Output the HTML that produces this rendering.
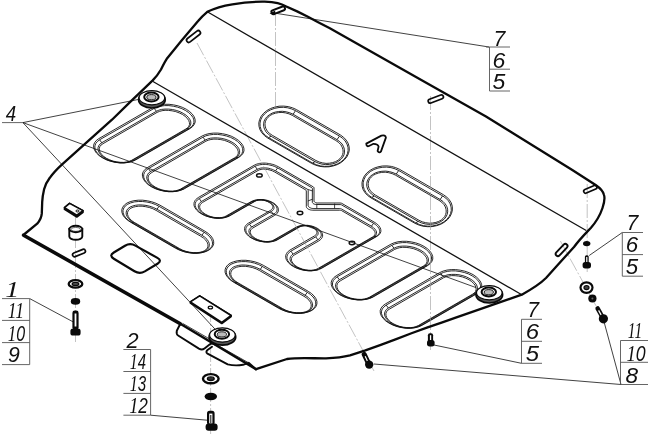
<!DOCTYPE html>
<html><head><meta charset="utf-8"><title>drawing</title>
<style>
html,body{margin:0;padding:0;background:#fff;}
body{width:650px;height:436px;overflow:hidden;}
svg{display:block;will-change:transform;}
text{font-family:"Liberation Sans","DejaVu Sans",sans-serif;font-style:italic;fill:#111;}
.s{font-family:"Liberation Serif",serif;font-size:23px;}
</style></head><body>
<svg width="650" height="436" viewBox="0 0 650 436">
<rect width="650" height="436" fill="#fff"/>
<g fill="none" stroke="#111" stroke-width="0.9">
<path d="M153.3 107.2L156.5 105.8L160.3 104.8L164.6 104.3L169.1 104.3L173.7 104.9L178.2 105.9L182.5 107.4L186.4 109.3L189.7 111.6L192.3 114.1L194.1 116.7L195.1 119.4L195.2 122L194.3 124.4L192.6 126.6L190.1 128.5L135.5 160L132.3 161.4L128.5 162.4L124.2 162.9L119.7 162.9L115.1 162.3L110.6 161.3L106.3 159.8L102.4 157.8L99.1 155.6L96.5 153.1L94.7 150.5L93.7 147.8L93.6 145.2L94.5 142.8L96.2 140.6L98.7 138.7Z"/>
<path d="M154.1 108.4L157.1 107L160.7 106.1L164.7 105.6L168.9 105.6L173.3 106.2L177.7 107.2L181.8 108.6L185.5 110.5L188.7 112.6L191.2 115L193 117.5L193.9 120L193.9 122.5L193.1 124.8L191.5 126.8L189.2 128.6L134.7 160L131.7 161.4L128.1 162.3L124.1 162.8L119.9 162.8L115.5 162.2L111.1 161.2L107 159.8L103.3 157.9L100.1 155.8L97.6 153.4L95.8 150.9L94.9 148.4L94.9 145.9L95.7 143.6L97.3 141.6L99.6 139.8Z"/>
<path d="M156.2 111.4L158.8 110.2L161.6 109.4L165 109.1L168.6 109.1L172.4 109.5L176.3 110.4L180 111.7L183.3 113.4L186.2 115.3L188.4 117.4L190 119.7L190.8 121.9L190.8 124L190.1 125.9L188.9 127.6L186.8 129.1L132.6 160.3L130 161.5L127.2 162.3L123.8 162.6L120.2 162.6L116.4 162.2L112.5 161.3L108.8 160L105.5 158.3L102.6 156.4L100.4 154.3L98.8 152L98 149.8L98 147.7L98.7 145.8L99.9 144.1L102 142.6Z"/>
<path d="M157.1 112.4L159.5 111.4L162.1 110.7L165.1 110.3L168.5 110.4L172 110.8L175.7 111.6L179.2 112.9L182.4 114.4L185.1 116.3L187.2 118.3L188.7 120.4L189.4 122.5L189.5 124.4L188.9 126.2L187.7 127.7L185.8 129L131.7 160.3L129.3 161.3L126.7 162L123.7 162.4L120.3 162.3L116.8 161.9L113.1 161.1L109.6 159.8L106.4 158.3L103.7 156.4L101.6 154.4L100.1 152.3L99.4 150.2L99.3 148.3L99.9 146.5L101.1 145L103 143.7Z"/>
<path d="M189.2 128.6L187 128.9"/>
<path d="M134.7 160.1L132.4 160.4"/>
<path d="M154.1 108.3L156.4 111.2"/>
<path d="M99.6 139.8L101.8 142.8"/>
<path d="M202.1 136L205.3 134.6L209.1 133.6L213.4 133.1L217.9 133.1L222.5 133.7L227 134.7L231.3 136.2L235.2 138.2L238.5 140.4L241.1 142.9L242.9 145.5L243.9 148.2L244 150.8L243.1 153.2L241.4 155.4L238.9 157.3L184.3 188.8L181.1 190.2L177.3 191.2L173 191.7L168.5 191.7L163.9 191.1L159.4 190.1L155.1 188.6L151.2 186.7L147.9 184.4L145.3 181.9L143.5 179.3L142.5 176.6L142.4 174L143.3 171.6L145 169.4L147.5 167.5Z"/>
<path d="M202.9 137.2L205.9 135.8L209.5 134.9L213.5 134.4L217.7 134.4L222.1 135L226.5 136L230.6 137.4L234.3 139.3L237.5 141.4L240 143.8L241.8 146.3L242.7 148.8L242.7 151.3L241.9 153.6L240.3 155.6L238 157.4L183.5 188.8L180.5 190.2L176.9 191.1L172.9 191.6L168.7 191.6L164.3 191L159.9 190L155.8 188.6L152.1 186.7L148.9 184.6L146.4 182.2L144.6 179.7L143.7 177.2L143.7 174.7L144.5 172.4L146.1 170.4L148.4 168.6Z"/>
<path d="M205 140.2L207.6 139L210.4 138.2L213.8 137.9L217.4 137.9L221.2 138.3L225.1 139.2L228.8 140.5L232.1 142.2L235 144.1L237.2 146.2L238.8 148.5L239.6 150.7L239.6 152.8L238.9 154.7L237.7 156.4L235.6 157.9L181.4 189.1L178.8 190.3L176 191.1L172.6 191.4L169 191.4L165.2 191L161.3 190.1L157.6 188.8L154.3 187.1L151.4 185.2L149.2 183.1L147.6 180.8L146.8 178.6L146.8 176.5L147.5 174.6L148.7 172.9L150.8 171.4Z"/>
<path d="M205.9 141.2L208.3 140.2L210.9 139.5L213.9 139.1L217.3 139.2L220.8 139.6L224.5 140.4L228 141.7L231.2 143.2L233.9 145.1L236 147.1L237.5 149.2L238.2 151.3L238.3 153.2L237.7 155L236.5 156.5L234.6 157.8L180.5 189.1L178.1 190.1L175.5 190.8L172.5 191.2L169.1 191.1L165.6 190.7L161.9 189.9L158.4 188.6L155.2 187.1L152.5 185.2L150.4 183.2L148.9 181.1L148.2 179L148.1 177.1L148.7 175.3L149.9 173.8L151.8 172.5Z"/>
<path d="M238 157.4L235.8 157.8"/>
<path d="M183.5 188.9L181.2 189.2"/>
<path d="M202.9 137.1L205.2 140.1"/>
<path d="M148.4 168.6L150.6 171.6"/>
<path d="M204.9 231.2L208.2 233.4L210.9 235.9L212.7 238.5L213.6 241.2L213.7 243.8L212.8 246.2L211.1 248.4L208.6 250.3L205.4 251.7L201.6 252.7L197.3 253.2L192.8 253.2L188.2 252.6L183.7 251.6L179.4 250.1L175.5 248.2L130.6 222.2L127.3 220L124.6 217.5L122.8 214.9L121.9 212.2L121.8 209.6L122.7 207.2L124.4 205L126.9 203.1L130.1 201.7L133.9 200.7L138.2 200.2L142.7 200.2L147.3 200.8L151.8 201.8L156.1 203.3L160 205.2Z"/>
<path d="M204 232.2L207.2 234.4L209.8 236.8L211.5 239.3L212.4 241.8L212.5 244.3L211.7 246.6L210.1 248.7L207.7 250.4L204.8 251.7L201.2 252.7L197.2 253.1L192.9 253.1L188.6 252.6L184.2 251.6L180.1 250.1L176.3 248.2L131.5 222.4L128.3 220.2L125.7 217.8L124 215.3L123.1 212.8L123 210.3L123.8 208L125.4 205.9L127.8 204.2L130.7 202.9L134.3 201.9L138.3 201.5L142.6 201.5L146.9 202L151.3 203L155.4 204.5L159.2 206.4Z"/>
<path d="M201.7 235.1L204.7 237.1L207 239.3L208.5 241.5L209.3 243.7L209.3 245.8L208.7 247.7L207.4 249.4L205.5 250.8L203.1 251.8L200.2 252.6L196.9 253L193.3 252.9L189.5 252.5L185.6 251.6L181.9 250.3L178.4 248.6L133.8 222.8L130.8 220.8L128.5 218.6L127 216.4L126.2 214.2L126.2 212.1L126.8 210.2L128.1 208.5L130 207.1L132.4 206.1L135.3 205.3L138.6 204.9L142.2 205L146 205.4L149.9 206.3L153.6 207.6L157.1 209.3Z"/>
<path d="M200.7 236.2L203.6 238.1L205.7 240.1L207.2 242.2L207.9 244.3L208 246.2L207.4 248L206.2 249.5L204.6 250.7L202.4 251.7L199.8 252.3L196.8 252.7L193.4 252.7L189.8 252.2L186.2 251.4L182.7 250.2L179.4 248.5L134.8 222.7L131.9 220.8L129.8 218.8L128.3 216.7L127.6 214.6L127.5 212.7L128.1 210.9L129.3 209.4L130.9 208.2L133.1 207.2L135.7 206.6L138.7 206.2L142.1 206.2L145.7 206.7L149.3 207.5L152.8 208.7L156.1 210.4Z"/>
<path d="M204.1 232.3L201.9 235.2"/>
<path d="M176.4 248.3L178.6 248.6"/>
<path d="M159.1 206.3L156.9 209.3"/>
<path d="M131.4 222.3L133.6 222.7"/>
<path d="M308.2 291.3L311.5 293.5L314.1 296L315.9 298.6L316.9 301.3L316.9 303.9L316.1 306.3L314.4 308.5L311.9 310.4L308.6 311.8L304.8 312.8L300.6 313.3L296.1 313.3L291.4 312.7L286.9 311.7L282.6 310.2L278.7 308.3L233.8 282.3L230.5 280.1L227.9 277.6L226.1 275L225.1 272.3L225.1 269.7L225.9 267.3L227.6 265.1L230.1 263.2L233.4 261.8L237.2 260.8L241.4 260.3L245.9 260.3L250.6 260.9L255.1 261.9L259.4 263.4L263.3 265.3Z"/>
<path d="M307.3 292.3L310.5 294.5L313 296.9L314.8 299.4L315.7 301.9L315.7 304.4L314.9 306.7L313.3 308.8L311 310.5L308 311.8L304.5 312.8L300.5 313.2L296.2 313.2L291.8 312.7L287.5 311.7L283.3 310.2L279.6 308.3L234.7 282.5L231.5 280.3L229 277.9L227.2 275.4L226.3 272.9L226.3 270.4L227.1 268.1L228.7 266L231 264.3L234 263L237.5 262L241.5 261.6L245.8 261.6L250.2 262.1L254.5 263.1L258.7 264.6L262.4 266.5Z"/>
<path d="M305 295.2L308 297.2L310.2 299.4L311.7 301.6L312.5 303.8L312.6 305.9L311.9 307.8L310.6 309.5L308.8 310.9L306.4 311.9L303.5 312.7L300.2 313.1L296.5 313L292.7 312.6L288.9 311.7L285.2 310.4L281.7 308.7L237 282.9L234 280.9L231.8 278.7L230.3 276.5L229.5 274.3L229.4 272.2L230.1 270.3L231.4 268.6L233.2 267.2L235.6 266.2L238.5 265.4L241.8 265L245.5 265.1L249.3 265.5L253.1 266.4L256.8 267.7L260.3 269.4Z"/>
<path d="M304 296.3L306.9 298.2L309 300.2L310.5 302.3L311.2 304.4L311.2 306.3L310.6 308.1L309.5 309.6L307.8 310.8L305.7 311.8L303.1 312.4L300.1 312.8L296.7 312.8L293.1 312.3L289.5 311.5L286 310.3L282.6 308.6L238 282.8L235.1 280.9L233 278.9L231.5 276.8L230.8 274.7L230.8 272.8L231.4 271L232.5 269.5L234.2 268.3L236.3 267.3L238.9 266.7L241.9 266.3L245.3 266.3L248.9 266.8L252.5 267.6L256 268.8L259.4 270.5Z"/>
<path d="M307.3 292.4L305.1 295.3"/>
<path d="M279.6 308.4L281.8 308.7"/>
<path d="M262.4 266.4L260.2 269.4"/>
<path d="M234.7 282.4L236.9 282.8"/>
<path d="M390.9 244.2L394.1 242.8L397.9 241.8L402.2 241.3L406.7 241.3L411.3 241.9L415.8 242.9L420.1 244.4L424 246.4L427.3 248.6L429.9 251.1L431.7 253.7L432.7 256.4L432.8 259L431.9 261.4L430.2 263.6L427.7 265.5L373.1 297L369.9 298.4L366.1 299.4L361.8 299.9L357.3 299.9L352.7 299.3L348.2 298.3L343.9 296.8L340 294.9L336.7 292.6L334.1 290.1L332.3 287.5L331.3 284.8L331.2 282.2L332.1 279.8L333.8 277.6L336.3 275.7Z"/>
<path d="M391.7 245.4L394.7 244L398.3 243.1L402.3 242.6L406.5 242.6L410.9 243.2L415.3 244.2L419.4 245.6L423.1 247.5L426.3 249.6L428.8 252L430.6 254.5L431.5 257L431.5 259.5L430.7 261.8L429.1 263.8L426.8 265.6L372.3 297L369.3 298.4L365.7 299.3L361.7 299.8L357.5 299.8L353.1 299.2L348.7 298.2L344.6 296.8L340.9 294.9L337.7 292.8L335.2 290.4L333.4 287.9L332.5 285.4L332.5 282.9L333.3 280.6L334.9 278.6L337.2 276.8Z"/>
<path d="M393.8 248.4L396.4 247.2L399.2 246.4L402.6 246.1L406.2 246.1L410 246.5L413.9 247.4L417.6 248.7L420.9 250.4L423.8 252.3L426 254.4L427.6 256.7L428.4 258.9L428.4 261L427.7 262.9L426.5 264.6L424.4 266.1L370.2 297.3L367.6 298.5L364.8 299.3L361.4 299.6L357.8 299.6L354 299.2L350.1 298.3L346.4 297L343.1 295.3L340.2 293.4L338 291.3L336.4 289L335.6 286.8L335.6 284.7L336.3 282.8L337.5 281.1L339.6 279.6Z"/>
<path d="M394.7 249.4L397.1 248.4L399.7 247.7L402.7 247.3L406.1 247.4L409.6 247.8L413.3 248.6L416.8 249.9L420 251.4L422.7 253.3L424.8 255.3L426.3 257.4L427 259.5L427.1 261.4L426.5 263.2L425.3 264.7L423.4 266L369.3 297.3L366.9 298.3L364.3 299L361.3 299.4L357.9 299.3L354.4 298.9L350.7 298.1L347.2 296.8L344 295.3L341.3 293.4L339.2 291.4L337.7 289.3L337 287.2L336.9 285.3L337.5 283.5L338.7 282L340.6 280.7Z"/>
<path d="M426.8 265.6L424.6 266"/>
<path d="M372.3 297.1L370 297.5"/>
<path d="M391.7 245.3L394 248.2"/>
<path d="M337.2 276.8L339.4 279.8"/>
<path d="M439.9 272.5L443.1 271.1L446.9 270.1L451.2 269.6L455.7 269.6L460.3 270.2L464.8 271.2L469.1 272.7L473 274.6L476.3 276.9L478.9 279.4L480.7 282L481.7 284.7L481.8 287.3L480.9 289.7L479.2 291.9L476.7 293.8L422.1 325.3L418.9 326.7L415.1 327.7L410.8 328.2L406.3 328.2L401.7 327.6L397.2 326.6L392.9 325.1L389 323.1L385.7 320.9L383.1 318.4L381.3 315.8L380.3 313.1L380.2 310.5L381.1 308.1L382.8 305.9L385.3 304Z"/>
<path d="M440.7 273.7L443.7 272.3L447.3 271.4L451.3 270.9L455.5 270.9L459.9 271.5L464.3 272.5L468.4 273.9L472.1 275.8L475.3 277.9L477.8 280.3L479.6 282.8L480.5 285.3L480.5 287.8L479.7 290.1L478.1 292.1L475.8 293.9L421.3 325.3L418.3 326.7L414.7 327.6L410.7 328.1L406.5 328.1L402.1 327.5L397.7 326.5L393.6 325.1L389.9 323.2L386.7 321.1L384.2 318.7L382.4 316.2L381.5 313.7L381.5 311.2L382.3 308.9L383.9 306.9L386.2 305.1Z"/>
<path d="M442.8 276.7L445.4 275.5L448.2 274.7L451.6 274.4L455.2 274.4L459 274.8L462.9 275.7L466.6 277L469.9 278.7L472.8 280.6L475 282.7L476.6 285L477.4 287.2L477.4 289.3L476.7 291.2L475.5 292.9L473.4 294.4L419.2 325.6L416.6 326.8L413.8 327.6L410.4 327.9L406.8 327.9L403 327.5L399.1 326.6L395.4 325.3L392.1 323.6L389.2 321.7L387 319.6L385.4 317.3L384.6 315.1L384.6 313L385.3 311.1L386.5 309.4L388.6 307.9Z"/>
<path d="M443.7 277.7L446.1 276.7L448.7 276L451.7 275.6L455.1 275.7L458.6 276.1L462.3 276.9L465.8 278.2L469 279.7L471.7 281.6L473.8 283.6L475.3 285.7L476 287.8L476.1 289.7L475.5 291.5L474.3 293L472.4 294.3L418.3 325.6L415.9 326.6L413.3 327.3L410.3 327.7L406.9 327.6L403.4 327.2L399.7 326.4L396.2 325.1L393 323.6L390.3 321.7L388.2 319.7L386.7 317.6L386 315.5L385.9 313.6L386.5 311.8L387.7 310.3L389.6 309Z"/>
<path d="M475.8 293.9L473.6 294.2"/>
<path d="M421.3 325.4L419 325.8"/>
<path d="M440.7 273.6L443 276.5"/>
<path d="M386.2 305.1L388.4 308"/>
<path d="M340.3 134.9L343.6 137.3L346.2 140.1L348.1 143.2L349.1 146.6L349.3 150.1L348.5 153.5L346.9 156.8L344.4 159.8L341.3 162.4L337.6 164.5L333.4 165.9L329 166.8L324.4 166.9L319.9 166.4L315.6 165.2L311.8 163.5L267.8 138.1L264.5 135.7L261.9 132.9L260 129.8L259 126.4L258.8 122.9L259.6 119.5L261.2 116.2L263.7 113.2L266.8 110.6L270.5 108.5L274.7 107.1L279.1 106.2L283.7 106.1L288.2 106.6L292.5 107.8L296.3 109.5Z"/>
<path d="M339.5 136.1L342.7 138.3L345.2 141L347 144.1L348 147.3L348.1 150.6L347.4 153.8L345.9 156.9L343.6 159.7L340.7 162.1L337.2 164L333.3 165.4L329.1 166.2L324.7 166.4L320.4 165.9L316.3 164.7L312.5 163L268.6 137.6L265.4 135.4L262.9 132.7L261.1 129.6L260.1 126.4L260 123.1L260.7 119.9L262.2 116.8L264.5 114L267.4 111.6L270.9 109.7L274.8 108.3L279 107.5L283.4 107.3L287.7 107.8L291.8 109L295.6 110.7Z"/>
<path d="M336.9 139.6L339.8 141.7L342.1 144L343.6 146.7L344.4 149.4L344.5 152.1L344 154.8L342.8 157.2L341 159.3L338.8 161.1L336.1 162.7L332.9 163.8L329.4 164.4L325.7 164.6L321.9 164.1L318.3 163.1L314.9 161.6L271.2 136.3L268.3 134.2L266 131.9L264.5 129.2L263.7 126.5L263.6 123.8L264.1 121.1L265.3 118.7L267.1 116.6L269.3 114.8L272 113.2L275.2 112.1L278.7 111.5L282.4 111.3L286.2 111.8L289.8 112.8L293.2 114.3Z"/>
<path d="M335.8 140.5L338.7 142.5L340.8 144.7L342.2 147.2L343 149.8L343.1 152.3L342.6 154.6L341.5 156.8L340 158.6L338 160.3L335.6 161.6L332.7 162.6L329.5 163.2L326.1 163.4L322.6 162.9L319.2 162L315.9 160.5L272.3 135.3L269.4 133.3L267.3 131.1L265.9 128.6L265.1 126L265 123.5L265.5 121.2L266.6 119L268.1 117.2L270.1 115.5L272.5 114.2L275.4 113.2L278.6 112.6L282 112.4L285.5 112.9L288.9 113.8L292.2 115.3Z"/>
<path d="M339.5 136.1L337 139.6"/>
<path d="M312.6 163L315 161.6"/>
<path d="M295.5 110.7L293.1 114.3"/>
<path d="M268.6 137.6L271.1 136.3"/>
<path d="M443.4 194.7L446.8 197.1L449.4 199.9L451.3 203L452.3 206.4L452.4 209.9L451.6 213.3L450 216.6L447.6 219.6L444.4 222.2L440.7 224.3L436.6 225.7L432.1 226.6L427.5 226.7L423 226.2L418.8 225L414.9 223.3L371 197.9L367.6 195.5L365 192.7L363.1 189.6L362.1 186.2L362 182.7L362.8 179.3L364.4 176L366.8 173L370 170.4L373.7 168.3L377.8 166.9L382.3 166L386.9 165.9L391.4 166.4L395.6 167.6L399.5 169.3Z"/>
<path d="M442.6 195.9L445.8 198.1L448.4 200.8L450.2 203.9L451.1 207.1L451.3 210.4L450.5 213.6L449 216.7L446.7 219.5L443.8 221.9L440.4 223.8L436.4 225.2L432.2 226L427.9 226.2L423.5 225.7L419.4 224.5L415.7 222.8L371.8 197.4L368.6 195.2L366 192.5L364.2 189.4L363.3 186.2L363.1 182.9L363.9 179.7L365.4 176.6L367.7 173.8L370.6 171.4L374 169.5L378 168.1L382.2 167.3L386.5 167.1L390.9 167.6L395 168.8L398.7 170.5Z"/>
<path d="M440 199.4L443 201.5L445.2 203.8L446.8 206.5L447.6 209.2L447.7 211.9L447.1 214.6L445.9 217L444.2 219.1L441.9 220.9L439.2 222.5L436 223.6L432.5 224.2L428.8 224.4L425.1 223.9L421.5 222.9L418.1 221.4L374.4 196.1L371.4 194L369.2 191.7L367.6 189L366.8 186.3L366.7 183.6L367.3 180.9L368.5 178.5L370.2 176.4L372.5 174.6L375.2 173L378.4 171.9L381.9 171.3L385.6 171.1L389.3 171.6L392.9 172.6L396.3 174.1Z"/>
<path d="M439 200.3L441.8 202.3L443.9 204.5L445.4 207L446.1 209.6L446.2 212.1L445.7 214.4L444.7 216.6L443.1 218.4L441.2 220.1L438.7 221.4L435.9 222.4L432.7 223L429.2 223.2L425.7 222.7L422.3 221.8L419 220.3L375.4 195.1L372.6 193.1L370.5 190.9L369 188.4L368.3 185.8L368.2 183.3L368.7 181L369.7 178.8L371.3 177L373.2 175.3L375.7 174L378.5 173L381.7 172.4L385.2 172.2L388.7 172.7L392.1 173.6L395.4 175.1Z"/>
<path d="M442.6 195.9L440.2 199.4"/>
<path d="M415.7 222.8L418.2 221.4"/>
<path d="M398.7 170.5L396.2 174.1"/>
<path d="M371.8 197.4L374.2 196.1"/>
<path d="M229.8 215.8L227.6 216.8L226.9 217L224.1 217.8L223.3 217.9L220.5 218.2L219.6 218.3L217 218.2L215.7 218.2L212.9 217.8L211.8 217.6L209.1 217L208.2 216.7L205.4 215.8L204.5 215.4L201.8 214.1L201.1 213.6L198.9 212.2L198.3 211.7L196.6 210.1L196.2 209.5L195.1 208L194.7 207.3L194.1 205.7L194 205L194 203.5L194 202.9L194.6 201.3L194.9 200.7L195.9 199.4L196.3 199L198.5 197.4L254.1 165.3L256.1 164.4L256.8 164.1L258.8 163.6L259.6 163.4L261.9 163.2L262.9 163.1L265.3 163.1L266.4 163.2L268.7 163.5L269.6 163.6L271.9 164.2L272.8 164.4L275.4 165.3L276.2 165.7L278.3 166.7L313.5 187L313.9 187.5L314 188L314 200.9L314.1 201.3L314.3 201.7L314.6 202L315.1 202.4L315.6 202.6L316.2 202.8L316.9 202.9L317.7 203L340.1 203L341 203.1L341.7 203.3L374.2 222.1L376.5 223.6L377.2 224.1L378.6 225.5L379 226L379.9 227.3L380.2 227.8L380.7 229.2L380.8 229.8L380.9 231.2L380.8 231.8L380.3 233.1L380 233.6L379.3 234.6L378.7 235.1L377 236.3L321.8 268.2L319.4 269.3L318.7 269.6L316.2 270.3L315.3 270.4L312.6 270.7L311.7 270.8L308.6 270.8L307.4 270.7L304.7 270.4L303.8 270.2L300.8 269.5L299.7 269.2L297.1 268.3L296.1 267.9L293.5 266.6L292.8 266.2L290.8 264.8L290.1 264.3L288.3 262.6L287.9 262.1L286.7 260.4L286.4 259.8L285.8 258.1L285.7 257.5L285.7 256L285.7 255.5L286.4 253.7L286.7 253.2L287.6 252L288.2 251.4L289.9 250.1L314.7 235.8L315.6 235.1L316.1 234.7L316.7 233.8L316.9 232.8L316.9 232.2L316.9 231.8L316.4 230.7L315.6 229.7L314.5 228.7L313.3 227.9L311.8 227.1L310.1 226.5L308.3 226.1L306.5 225.8L304.7 225.8L303 225.9L302.2 226.1L301.4 226.3L300.7 226.5L299.6 227L277.8 239.6L275.3 240.8L274.4 241L272.2 241.6L271.4 241.7L268.9 242L268 242.1L265.4 242L264.5 242L261.9 241.6L260.9 241.5L258.2 240.8L257.3 240.6L254.8 239.7L254 239.3L251.8 238.2L251 237.8L249.1 236.5L248.5 236L247 234.5L246.5 234L245.6 232.6L245.3 232.1L244.7 230.6L244.6 230L244.6 228.5L244.6 227.9L245.2 226.3L245.5 225.9L246.3 224.8L246.9 224.2L248.5 223.1L270.6 210.3L271.5 209.6L271.9 209.2L272.5 208.3L272.8 207.3L272.8 206.7L272.7 206.3L272.2 205.2L271.5 204.2L270.7 203.5L269.1 202.4L267.2 201.4L265.5 200.8L263.7 200.3L261.9 200.1L260.1 200L258.4 200.2L256.8 200.5L256.1 200.8L255 201.3Z"/>
<path d="M229.1 215.8L226.6 216.9L226 217.1L223.6 217.7L223 217.8L220.3 218.1L217.1 218.1L215.9 218.1L213.2 217.7L212.2 217.6L208.8 216.7L206 215.8L205.3 215.5L202.8 214.3L202.1 213.9L199.9 212.3L199.3 211.9L197.7 210.3L196.2 208.3L195.9 207.7L195.3 206.1L195.2 205.5L195.2 204.1L195.3 203.5L195.7 202.1L196.1 201.5L197.3 200L199.4 198.5L254.9 166.4L256.7 165.6L257.3 165.4L259.2 164.9L259.9 164.7L262 164.5L262.9 164.4L265.2 164.4L266.2 164.5L268.4 164.7L269.2 164.9L272.2 165.6L274.7 166.5L277.5 167.8L311.8 187.7L312.3 188.1L312.4 188.6L312.3 202.1L312.4 202.5L312.7 203L313 203.4L313.6 203.8L314.2 204.1L315 204.3L315.8 204.5L316.6 204.5L340 204.6L340.9 204.6L341.6 204.9L373.3 223.1L375.5 224.6L376.2 225.1L377.5 226.4L377.9 226.9L379 228.5L379.5 229.9L379.6 230.4L379.7 231.7L379.6 232.3L379.1 233.5L378.2 234.8L377.7 235.3L376.1 236.4L320.9 268.3L318.7 269.3L318.1 269.6L315.7 270.2L315 270.3L312.4 270.6L311.6 270.7L308.8 270.7L307.6 270.6L304.2 270.2L301.3 269.5L300.3 269.2L297.8 268.3L296.8 267.9L294.4 266.7L293.7 266.3L291.7 265L291 264.4L289.4 262.9L289 262.4L287.8 260.7L287.6 260.2L287 258.5L286.9 258.1L287 256.2L287.6 254.5L288.7 252.9L289.2 252.4L290.9 251.2L315.6 236.9L316.6 236.1L317.2 235.6L317.6 235.1L317.9 234.6L318.1 234L318.2 233.5L318.1 232.3L317.6 231.1L317 230.3L316.7 230L315.5 228.9L314.2 228L312.6 227.2L310.7 226.5L308.7 226L306.7 225.7L304.6 225.7L303.8 225.7L302.7 225.8L301.8 226L300.9 226.2L300 226.5L298.7 227.1L276.8 239.8L274.2 240.9L272.2 241.5L271.4 241.6L268.7 241.9L265.8 241.9L264.7 241.9L261.6 241.4L258.9 240.8L257.9 240.6L255 239.5L252.6 238.3L251.9 237.9L250.2 236.8L249.5 236.2L247.8 234.5L246.6 232.8L246.4 232.4L245.9 230.9L245.8 229.1L245.9 228.5L246.3 227.3L246.6 226.8L247.7 225.4L249.6 224L271.8 211.1L272.5 210.6L273 210.1L273.4 209.6L273.7 209.1L273.9 208.5L274 208L274 207.3L273.6 206L272.9 204.8L272.5 204.5L271.3 203.4L269.5 202.2L267.4 201.2L265.5 200.6L263.4 200.1L261.3 199.9L260 199.9L259.2 200L258.1 200.1L257.2 200.2L256.3 200.5L255.4 200.8L254.5 201.2Z"/>
<path d="M201.4 201.5L257.1 169.4L258.6 168.7L259.2 168.5L260.7 168.1L262.5 167.9L263.3 167.9L265.3 167.9L268.2 168.2L270.4 168.8L272.7 169.5L273.5 169.9L275.6 170.9L307.3 189.2L307.9 189.6L308 189.9L308.2 190.4L308.1 205.2L308.2 205.9L308.5 206.5L309.1 207.1L309.8 207.6L310.7 208L311.7 208.4L312.8 208.5L313.9 208.6L339.8 208.6L340.6 208.7L341.5 209L371.1 226L373.1 227.4L373.6 227.8L374.9 229.1L375.8 230.3L376 230.7L376.5 232L376.5 233.2L376.5 233.7L376.1 234.7L375.2 235.8L373.7 236.9L318.7 268.7L316.9 269.5L316.3 269.7L314.3 270.2L312 270.5L311.1 270.6L308.6 270.5L305.1 270.1L302 269.4L298.9 268.2L296.2 266.9L293.8 265.2L292 263.5L290.7 261.6L290.1 259.8L290 258.4L290.1 258L290.6 256.6L291.5 255.4L291.9 255L293.3 254L317.8 239.8L319.1 238.9L319.7 238.4L320.7 237.1L321.2 236L321.3 235.1L321.2 234.1L321.1 233.6L320.6 232.4L319.6 230.9L318.3 229.7L316.8 228.6L315.9 228.1L314.6 227.5L313.7 227.1L311.7 226.4L309.4 225.9L306.7 225.5L304.7 225.5L303.2 225.6L301.1 225.9L299 226.4L298.1 226.8L296.8 227.4L274.8 240L272.7 241L271.1 241.4L270.3 241.6L268.2 241.8L266 241.8L265.3 241.7L263 241.5L260.3 240.9L259.5 240.7L257.3 239.9L254.9 238.7L254.3 238.4L252.7 237.3L252.1 236.8L250.6 235.4L249.5 233.7L249 232.1L248.9 230.9L249 230.4L249.4 229.2L250.2 228.2L250.5 227.9L251.8 226.9L273.7 214.3L275 213.4L275.9 212.5L276.6 211.5L277.1 210.1L277.1 208.9L277 208.1L276.5 206.9L275.5 205.4L274.1 204.2L272.6 203.1L271.3 202.4L270 201.7L269.1 201.3L267.1 200.7L264.5 200.1L261.9 199.8L259.5 199.8L258.6 199.8L256.8 200.1L255 200.5L253.5 201L251.9 201.7L226.9 216.2L224.9 217.1L222.5 217.7L219.8 218L217.1 218L214.1 217.7L213.2 217.5L210.3 216.8L207.5 215.8L204.9 214.6L204.2 214.2L202.1 212.7L200.5 211.1L199.2 209.4L198.9 208.9L198.4 207.3L198.3 205.7L198.8 204.2L199 203.8L199.9 202.7Z"/>
<path d="M202.4 202.5L258 170.5L259.1 169.9L260 169.7L261.2 169.4L262.6 169.2L263.4 169.1L265.2 169.2L267.6 169.5L269.9 170L272 170.7L272.7 171L274.7 172L305.5 189.8L306 190.2L306.2 190.5L306.3 191L306.3 206.4L306.4 207.1L306.8 207.8L307.4 208.5L308.2 209.1L309.2 209.5L310.3 209.9L311.5 210.1L312.8 210.2L339.7 210.2L340.5 210.3L341 210.4L341.4 210.5L370.1 227.1L372.1 228.4L373.7 229.9L374.7 231.4L375.1 232.6L375.2 233.7L375.1 234.1L374.7 235.1L374 236L372.7 236.9L317.8 268.6L316.3 269.3L315.5 269.6L313.8 270L311.8 270.2L311.1 270.3L308.7 270.2L305.7 269.9L302.7 269.2L299.8 268.1L297.3 266.9L295.1 265.4L293.3 263.7L292.1 262L291.4 260.3L291.4 258.6L291.9 257.4L292.6 256.4L293.1 255.9L294.3 255L318.8 240.9L320.2 239.9L321.3 238.8L322.1 237.6L322.6 236.3L322.6 234.9L322.4 233.9L321.9 232.6L320.8 231L319.4 229.8L317.8 228.6L316.8 228L315.5 227.4L314.3 226.9L312.2 226.2L310.4 225.8L309.5 225.6L307.6 225.3L306.5 225.3L304 225.2L301.8 225.4L299.9 225.8L297.9 226.4L295.9 227.3L274 239.9L272.4 240.6L271.6 240.9L270.3 241.2L268.1 241.5L265.7 241.5L263.5 241.2L262.7 241.1L260.4 240.5L257.8 239.6L255.4 238.4L253.4 237.1L251.9 235.6L250.8 234.1L250.3 232.6L250.3 231.1L250.7 230L251.3 229.2L251.8 228.7L252.8 228L274.6 215.4L276 214.4L277.1 213.3L277.9 212.1L278.4 210.8L278.5 209.4L278.3 208.4L277.7 207.1L276.6 205.5L275.3 204.3L273.5 203L272.2 202.3L270.9 201.6L269.7 201.2L268.5 200.7L267.1 200.3L265.3 199.9L264.3 199.7L261.9 199.5L260.1 199.5L258.9 199.5L256.5 199.8L254.5 200.3L252.6 200.9L251 201.7L226.1 216L224.3 216.9L222.6 217.3L221.7 217.5L219.9 217.7L219.4 217.7L217 217.7L214.3 217.4L213.7 217.3L210.9 216.6L208.3 215.7L205.9 214.5L205.2 214.1L203.1 212.7L201.6 211.2L200.5 209.6L200.2 209.2L199.7 207.6L199.7 206.2L200.1 204.8L201 203.6Z"/>
<path d="M199.2 198.6L201.4 201.5"/>
<path d="M229.1 215.8L226.9 216.2"/>
<path d="M249.4 224.1L251.6 227"/>
<path d="M276.7 239.8L274.5 240.2"/>
<path d="M290.9 251.2L293.1 254.1"/>
<path d="M320.8 268.4L318.6 268.8"/>
<path d="M254 201.5L251.8 201.8"/>
<path d="M271.3 211.5L273.5 214.4"/>
<path d="M298.8 227.1L296.6 227.5"/>
<path d="M315.7 236.8L317.9 239.8"/>
<path d="M255 166.3L257.3 169.3"/>
<path d="M277.7 167.9L275.5 170.8"/>
<path d="M376.3 236.3L374.1 236.7"/>
<path d="M373.6 223.3L371.4 226.2"/>
</g>
<!-- centerlines (gray dash-dot) -->
<g fill="none" stroke="#9a9a9a" stroke-width="0.6" stroke-dasharray="14 2 2 2">
<path d="M197 43L374 371"/>
<path d="M275.5 12V106"/>
<path d="M430.5 96V352"/>
<path d="M587.2 184V272"/>
<path d="M560.4 241L606 324"/>
<path d="M75.5 214V342"/>
<path d="M210.6 308V434"/>
</g>
<!-- jog ticks -->
<g fill="none" stroke="#111" stroke-width="0.8">
<path d="M316.8 203.6V208.4M334.6 203.6V208.4M312.6 191L307.8 189.4M312.6 199.2L307.8 201"/>
</g>
<!-- fold lines -->
<g fill="none" stroke="#111" stroke-width="1.3" stroke-linecap="round">
<path d="M207.3 11.8L585.8 230.3"/>
<path d="M153.4 81.8L521.8 294.7"/>
</g>
<!-- leader lines -->
<g fill="none" stroke="#111" stroke-width="0.8">
<path d="M22.9 122.6L138.6 99.4"/>
<path d="M22.9 122.6L476 287.6"/>
<path d="M22.9 122.6L215 329.1"/>
<path d="M274 13L489 47"/>
<path d="M622.3 232.5L589.2 255.5"/>
<path d="M521.5 363.3L434 345"/>
<path d="M621 384.5L374 364"/>
<path d="M621 384.5L604.2 322.4"/>
<path d="M29.7 298.6L73 321.8"/>
<path d="M150.6 415.2L208.3 420.3"/>
</g>
<!-- outer outline -->
<g fill="none" stroke="#0a0a0a" stroke-width="2.3" stroke-linejoin="round" stroke-linecap="round">
<path d="M256 369.2L287 359C300 357.2 315 358.6 326 358.4C336 358 343 357.2 350 355.4L365.4 350.3L380.8 344.8L396.2 339.2L411.5 333.3L426.9 327.7L442.3 322.3L455 317.9L521.8 294.7
C532 289 539 285 546 278L557 265.7L574 247C579 240 585 234 591 227.7C596 222 600.5 214 602.5 208C604.5 202 605 198 604 195C603 191 600 188 596 185.3
L572.3 170L486 116.5L421.3 80L340 33.9L329.4 28L318.6 22.4L307.9 16.8L297.1 11.4L286.3 6.5C284 5.3 281 4 277.7 3.2C274 2.3 269.5 1.8 264.7 1.7C254 1.5 243 2.6 232.4 4.3C223 5.8 215 8 207.3 11.8C203.5 15 200.5 18 198.1 21L181.6 40.6L167.2 58.2C165 61.5 163 65.5 161 69.5C158.5 73.8 156 77 152.7 80.4L139.7 92.9L130.5 101.7L112 119.7L62.4 164.1C57 169 52.5 174 49.8 177.8C47 181.5 45 185.5 44.1 189.3C43 194 42.4 198 42.2 201.9L41.8 213.4C41.5 217.5 40 220.5 37.2 223.7L24.6 234"/>
</g>
<g fill="none" stroke="#0a0a0a" stroke-width="3.6" stroke-linecap="round" stroke-linejoin="round">
<path d="M23.6 235.2L180.3 323.8"/>
</g>
<g fill="none" stroke="#0a0a0a" stroke-width="2.4" stroke-linecap="round" stroke-linejoin="round">
<path d="M180.3 323.8L256 369.2"/>
</g>
<g fill="none" stroke="#0a0a0a" stroke-width="1.9" stroke-linecap="round" stroke-linejoin="round">
<!-- bottom-left tab -->
<path d="M180.2 324L176.8 330.7C176.3 333 176.8 334.8 178.5 335.8L198.9 348.6C201 349.8 203 349.6 204.5 348.4L209.9 344.2C211.5 343.2 213.5 343.6 215 344.5"/>
<path d="M212 346.8L207.5 350C206 351.3 206 352.6 207.5 353.6L227.7 364.4C232 365.4 238 365.6 243 364.8L248.6 362.8L256 369.2"/>
</g>
<g fill="none" stroke="#111" stroke-width="0.8" stroke-linecap="round">
<path d="M183 323.6L214 341.5"/>
<path d="M214.5 343.5L248.6 362.8"/>
</g>
<!-- slots -->
<g fill="none" stroke="#0a0a0a" stroke-width="1.7" stroke-linecap="round">
<rect x="-8.2" y="-2.2" width="16.4" height="4.4" rx="2.2" transform="translate(193.5 36.5) rotate(-38)"/>
<rect x="-7" y="-2" width="14" height="4" rx="1.6" stroke-width="2" transform="translate(278.2 10.3) rotate(-21)"/>
<rect x="-8" y="-2" width="16" height="4" rx="2" transform="translate(435.8 99) rotate(-21)"/>
<rect x="-7" y="-1.9" width="14" height="3.8" rx="1.9" transform="translate(590.3 189.3) rotate(-23)"/>
<rect x="-7.6" y="-2.2" width="15.2" height="4.4" rx="2.2" stroke-width="1.9" transform="translate(561.6 250) rotate(-47)"/>
<rect x="-6.8" y="-1.9" width="13.6" height="3.8" rx="1.9" transform="translate(79 253) rotate(-22)"/>
</g>
<!-- arrowhead at slot 2 -->
<path d="M269.6 13.6L275.2 10.6L275 15.2Z" fill="#0a0a0a"/>
<!-- A mark -->
<path d="M366.3 143.6L381.4 135.6Q385.5 134.6 385.9 137.6L381 151.4Q379.3 153.6 377.6 151L378.6 146.6Q378 144 373.5 143.8L369 146Q366.4 147 366.3 143.6Z" fill="none" stroke="#0a0a0a" stroke-width="1.8" stroke-linejoin="round"/>
<!-- cutout -->
<path d="M113.8 258.7Q108.7 255.6 113.8 252.5L125.0 245.8Q130.1 242.7 135.4 245.6L157.4 257.9Q162.4 260.7 157.5 263.7L144.8 271.4Q139.6 274.3 134.5 271.2Z" fill="none" stroke="#0a0a0a" stroke-width="2.2"/>
<!-- small holes -->
<g fill="none" stroke="#111" stroke-width="1.5">
<ellipse cx="259.4" cy="175.4" rx="2.8" ry="1.7"/>
<ellipse cx="300" cy="213" rx="2.8" ry="1.7"/>
<ellipse cx="352" cy="243" rx="2.8" ry="1.7"/>
</g>
<!-- nut plates -->
<g stroke="#0a0a0a" stroke-width="1.6" stroke-linejoin="round" fill="#fff">
<path d="M190.4 303.1L221.8 323.5L231.1 316.7L231.1 315.5L199.7 295.9L190.4 301.9Z" fill="#333"/>
<path d="M190.4 301.9L199.7 295.9L231.1 315.5L221.8 322.3Z"/>
<ellipse cx="210.4" cy="307.5" rx="2.2" ry="1.4" fill="none" stroke-width="1.2"/>
<path d="M64.5 209.4L76.8 217L83 212.4L83 210.6L69.6 203.4L64.5 207.6Z" fill="#222"/>
<path d="M64.5 207.6L69.6 203.4L83 210.6L76.8 215.2Z"/>
<ellipse cx="77.5" cy="211" rx="1.6" ry="1" fill="none" stroke-width="1"/>
</g>
<!-- grommets -->
<g transform="translate(151.9 98.8)" fill="#fff" stroke="#0a0a0a">
<ellipse cx="0" cy="0.9" rx="13.3" ry="8.3" stroke-width="1.7" fill="#555"/>
<ellipse cx="0" cy="-1" rx="12.8" ry="7.1" stroke-width="1.2"/>
<ellipse cx="-0.5" cy="-1.8" rx="7.2" ry="4.5" stroke-width="2"/>
<ellipse cx="-0.5" cy="-1.6" rx="4.6" ry="2.6" stroke-width="0.9" fill="#bbb"/>
</g>
<g transform="translate(222.4 336)" fill="#fff" stroke="#0a0a0a">
<ellipse cx="0" cy="0.9" rx="13.3" ry="8.3" stroke-width="1.7" fill="#555"/>
<ellipse cx="0" cy="-1" rx="12.8" ry="7.1" stroke-width="1.2"/>
<ellipse cx="-0.5" cy="-1.8" rx="7.2" ry="4.5" stroke-width="2"/>
<ellipse cx="-0.5" cy="-1.6" rx="4.6" ry="2.6" stroke-width="0.9" fill="#bbb"/>
</g>
<g transform="translate(489.3 293.8)" fill="#fff" stroke="#0a0a0a">
<ellipse cx="0" cy="0.9" rx="13.3" ry="8.3" stroke-width="1.7" fill="#555"/>
<ellipse cx="0" cy="-1" rx="12.8" ry="7.1" stroke-width="1.2"/>
<ellipse cx="-0.5" cy="-1.8" rx="7.2" ry="4.5" stroke-width="2"/>
<ellipse cx="-0.5" cy="-1.6" rx="4.6" ry="2.6" stroke-width="0.9" fill="#bbb"/>
</g>

<!-- spacer -->
<g stroke="#0a0a0a" stroke-width="1.9" fill="#fff">
<path d="M69.3 229V236.6A6.5 3.2 0 0 0 82.3 236.6V229Z"/>
<ellipse cx="75.8" cy="229" rx="6.5" ry="3.2"/>
<ellipse cx="75.8" cy="229.4" rx="4.6" ry="2" stroke-width="0.6" fill="none"/>
</g>
<!-- left stack -->
<g stroke="#0a0a0a" fill="#fff">
<ellipse cx="75.5" cy="283.9" rx="6.8" ry="3.8" stroke-width="2.3"/>
<ellipse cx="75.5" cy="283.9" rx="3.3" ry="1.6" stroke-width="1.3" fill="#555"/>
<ellipse cx="75.5" cy="301.4" rx="4.7" ry="3.3" fill="#0a0a0a" stroke="none"/>
<rect x="72.4" y="310.6" width="6.2" height="19" rx="2.4" fill="#0a0a0a" stroke="none"/>
<rect x="74.6" y="313.5" width="1.8" height="13" fill="#fff" stroke="none"/>
<rect x="70.4" y="328.4" width="10.2" height="7.2" rx="2.6" fill="#0a0a0a" stroke="none"/>
</g>
<!-- bottom stack -->
<g stroke="#0a0a0a" fill="#fff">
<ellipse cx="210.8" cy="378.7" rx="7.8" ry="4.6" stroke-width="2.4"/>
<ellipse cx="210.8" cy="378.7" rx="3.4" ry="1.8" stroke-width="1.3" fill="#333"/>
<ellipse cx="210.8" cy="396.5" rx="6.2" ry="3.8" fill="#0a0a0a" stroke="none"/>
<rect x="207" y="410.8" width="7.6" height="14" rx="2.6" fill="#0a0a0a" stroke="none"/>
<rect x="209.2" y="413.6" width="3.2" height="10" fill="#fff" stroke="none"/>
<rect x="210.3" y="415" width="1" height="8" fill="#0a0a0a" stroke="none"/>
<rect x="205.6" y="423.4" width="12" height="7.4" rx="3" fill="#0a0a0a" stroke="none"/>
</g>
<!-- right stack -->
<g stroke="#0a0a0a" fill="#fff">
<ellipse cx="586.7" cy="243.6" rx="3.7" ry="2.7" fill="#0a0a0a" stroke="none"/>
<rect x="584.9" y="255.2" width="3.8" height="9" rx="1.6" fill="#0a0a0a" stroke="none"/>
<rect x="586.2" y="257" width="1.2" height="6" fill="#fff" stroke="none"/>
<rect x="582.6" y="262" width="8.4" height="6.4" rx="2.6" fill="#0a0a0a" stroke="none"/>
<ellipse cx="586.5" cy="287.6" rx="6" ry="5.3" stroke-width="2.2"/>
<ellipse cx="586.5" cy="287.6" rx="2.5" ry="2.1" stroke-width="1.2" fill="#444"/>
<circle cx="592.4" cy="298.5" r="4.1" fill="#0a0a0a" stroke="none"/>
<circle cx="592.4" cy="298.5" r="1" fill="#666" stroke="none"/>
<path d="M597.6 308.4L602.6 317.4" stroke-width="4.4" stroke-linecap="round"/>
<path d="M598.6 310.4L601.4 315.4" stroke-width="1.2" stroke="#fff"/>
<circle cx="603.4" cy="318.8" r="4.6" fill="#0a0a0a" stroke="none"/>
</g>
<!-- small bolts under plate -->
<g fill="#0a0a0a" stroke="none">
<rect x="427.9" y="333.2" width="5.2" height="9" rx="2"/>
<rect x="429.9" y="335.2" width="1.3" height="5" fill="#fff"/>
<rect x="427" y="340" width="7.6" height="6.4" rx="2.6"/>
<path d="M364.2 354.4L368.6 363.6" stroke="#0a0a0a" stroke-width="5" stroke-linecap="round"/>
<path d="M365.2 356.2L367.6 361.4" stroke="#fff" stroke-width="1.2"/>
<circle cx="369.2" cy="364.6" r="4.2"/>
</g>
<!-- label boxes -->
<g fill="none" stroke="#555" stroke-width="0.9">
<path d="M2 122.6H22.9"/>
<path d="M486 47H510M489.5 47V91M489.5 69.2H510M489.5 91H510"/>
<path d="M622.3 232.5H643M622.3 232.5V276.2M622.3 254.6H643M622.3 276.2H643"/>
<path d="M521.5 319.3H542M521.5 319.3V363.3M521.5 341.3H542M521.5 363.3H542"/>
<path d="M620.5 340.5H648M620.5 340.5V384.5M620.5 362.3H648M620.5 384.5H648"/>
<path d="M2 298.6H29.7M29.7 298.6V364.6M2 320.4H29.7M2 342.6H29.7M2 364.6H29.7"/>
<path d="M123.4 349.5H150.6M150.6 349.5V415.2M123.4 371.5H150.6M123.4 393.4H150.6M123.4 415.2H150.6"/>
</g>
<!-- labels -->
<g font-size="21.6">
<text x="5.8" y="120.5" textLength="10.4" lengthAdjust="spacingAndGlyphs">4</text>
<text x="493.4" y="46.2" textLength="11.8" lengthAdjust="spacingAndGlyphs">7</text>
<text x="492.4" y="67.6" textLength="12.8" lengthAdjust="spacingAndGlyphs">6</text>
<text x="492.6" y="89.4" textLength="12.8" lengthAdjust="spacingAndGlyphs">5</text>
<text x="626.4" y="229.6" textLength="11.8" lengthAdjust="spacingAndGlyphs">7</text>
<text x="625.8" y="252.0" textLength="12.4" lengthAdjust="spacingAndGlyphs">6</text>
<text x="625.8" y="274.4" textLength="12.4" lengthAdjust="spacingAndGlyphs">5</text>
<text x="527.2" y="316.8" textLength="11.8" lengthAdjust="spacingAndGlyphs">7</text>
<text x="525.8" y="339.0" textLength="13.3" lengthAdjust="spacingAndGlyphs">6</text>
<text x="525.8" y="360.8" textLength="13.3" lengthAdjust="spacingAndGlyphs">5</text>
<text x="627.8" y="337.8" textLength="14.3" lengthAdjust="spacingAndGlyphs"><tspan class="s">1</tspan><tspan class="s">1</tspan></text>
<text x="626.4" y="360.6" textLength="19.3" lengthAdjust="spacingAndGlyphs"><tspan class="s">1</tspan>0</text>
<text x="625.4" y="382.5" textLength="12.6" lengthAdjust="spacingAndGlyphs">8</text>
<text x="5.2" y="297.0" textLength="14" lengthAdjust="spacingAndGlyphs"><tspan class="s">1</tspan></text>
<text x="7.7" y="318.4" textLength="16.3" lengthAdjust="spacingAndGlyphs"><tspan class="s">1</tspan><tspan class="s">1</tspan></text>
<text x="7.7" y="340.5" textLength="17.4" lengthAdjust="spacingAndGlyphs"><tspan class="s">1</tspan>0</text>
<text x="7.9" y="362.2" textLength="11.8" lengthAdjust="spacingAndGlyphs">9</text>
<text x="126.5" y="347.6" textLength="12.1" lengthAdjust="spacingAndGlyphs">2</text>
<text x="129.8" y="369.3" textLength="16.2" lengthAdjust="spacingAndGlyphs"><tspan class="s">1</tspan>4</text>
<text x="129.8" y="391.1" textLength="16.4" lengthAdjust="spacingAndGlyphs"><tspan class="s">1</tspan>3</text>
<text x="129.2" y="413.1" textLength="18.7" lengthAdjust="spacingAndGlyphs"><tspan class="s">1</tspan>2</text>
</g>

</svg>
</body></html>
